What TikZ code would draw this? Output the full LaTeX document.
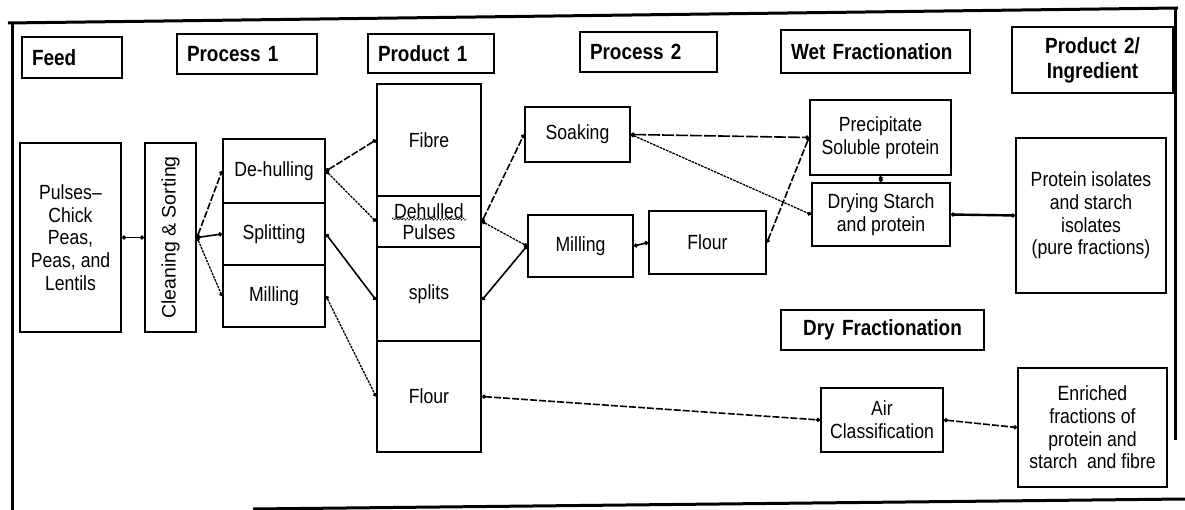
\documentclass[tikz,border=0pt]{standalone}
\usepackage{fontspec}
\setmainfont{Liberation Sans}[FakeStretch=0.86]
\newfontfamily\widesans{Liberation Sans}
\usetikzlibrary{arrows.meta,decorations.pathmorphing}

\begin{document}
\begin{tikzpicture}[x=1pt,y=-1pt,
  box/.style={draw, line width=2pt, inner sep=0pt, align=center,
    font=\fontsize{20.5}{22.7}\selectfont},
  head/.style={draw, line width=1.8pt, inner xsep=10pt, inner ysep=0pt, align=left,
    font=\fontsize{22}{25}\selectfont\bfseries},
  link/.style={line width=1.6pt, {Circle[length=4pt]}-{Circle[length=4pt]}},
  dashlink/.style={link, dash pattern=on 7pt off 2pt},
  dotlink/.style={link, line width=1.3pt, dash pattern=on 2.5pt off 1pt},
  frameline/.style={line width=3pt}]

\useasboundingbox (0,0) rectangle (1185,510);

% outer frame
\draw[frameline] (8,23) -- (1178,8);
\draw[frameline] (12,22) -- (12,510);
\draw[frameline] (1175,8) -- (1175,440);
\draw[frameline] (253,509) -- (1185,499);

% column headings
\node[head, text width=80pt, minimum height=41pt] (hfeed) at (72,57.5) {Feed};
\node[head, text width=120pt, minimum height=40pt] (hproc1) at (247,54) {Process 1};
\node[head, text width=106pt, minimum height=39pt] (hprod1) at (431,53.5) {Product 1};
\node[head, text width=117pt, minimum height=40pt] (hproc2) at (648.5,52) {Process 2};
\node[head, text width=169pt, minimum height=43pt] (hwet) at (875.5,51.5) {Wet Fractionation};
\node[head, align=center, text width=141pt, minimum height=66pt] (hprod2) at (1092.5,60) {Product 2/\\Ingredient};
\node[head, align=center, text width=183pt, minimum height=40pt] (hdry) at (882.5,330) {Dry Fractionation};

% feed and first processing step
\node[box, minimum width=101pt, minimum height=189pt] (pulses) at (70.5,237.5)
  {Pulses--\\Chick\\Peas,\\Peas, and\\Lentils};
\node[box, minimum width=51pt, minimum height=189pt] (cs) at (170.5,237.5) {};
\node[rotate=90, inner sep=0pt, font=\widesans\fontsize{19.5}{22}\selectfont] (cstext) at (cs) {Cleaning \& Sorting};
\node[box, minimum width=102pt, minimum height=64pt] (dh) at (274,171) {De-hulling};
\node[box, minimum width=102pt, minimum height=62pt] (sp) at (274,234) {Splitting};
\node[box, minimum width=102pt, minimum height=62pt] (ml) at (274,296) {Milling};

% first products
\node[box, minimum width=104pt, minimum height=112pt] (fibre) at (429,140) {Fibre};
\node[box, minimum width=104pt, minimum height=51pt, font=\fontsize{20.5}{21.5}\selectfont] (dpul) at (429,221.5) {Dehulled\\Pulses};
\node[box, minimum width=104pt, minimum height=94pt] (splits) at (429,294) {\raisebox{-6pt}{splits}};
\node[box, minimum width=104pt, minimum height=111pt] (flour) at (429,396.5) {Flour};
\draw[line width=0.9pt, dash pattern=on 1.5pt off 1pt, decorate,
  decoration={snake, amplitude=1pt, segment length=3.5pt}] (392,219) -- (467,219);

% second processing step
\node[box, minimum width=105pt, minimum height=55pt] (soak) at (577.5,134.5) {Soaking};
\node[box, minimum width=105pt, minimum height=62pt] (mill) at (580.5,246) {Milling};
\node[box, minimum width=117pt, minimum height=63pt] (flourb) at (707.5,242.5) {Flour};

% wet fractionation
\node[box, minimum width=141pt, minimum height=75pt] (prec) at (880.5,137.5) {Precipitate\\Soluble protein};
\node[box, minimum width=138pt, minimum height=63pt] (dry) at (881,214.5) {Drying Starch\\and protein};
\node[box, minimum width=150pt, minimum height=155pt] (iso) at (1091,215.5)
  {Protein isolates\\and starch\\isolates\\(pure fractions)};

% dry fractionation
\node[box, minimum width=122pt, minimum height=64pt] (air) at (882,420) {Air\\Classification};
\node[box, minimum width=149pt, minimum height=119pt] (enr) at (1092.5,427.5)
  {Enriched\\fractions of\\protein and\\starch\ \ and fibre};

% connections
\draw[link] (pulses.east) -- (cs.west);
\draw[dashlink] (cs.east) -- (dh.west);
\draw[link] (cs.east) -- (sp.west);
\draw[dotlink] (cs.east) -- (ml.west);
\draw[dashlink] (dh.east) -- (fibre.west);
\draw[dotlink] (dh.east) -- (dpul.west);
\draw[link] (sp.east) -- ([yshift=-6pt]splits.west);
\draw[dotlink] (ml.east) -- (flour.west);
\draw[dashlink] (dpul.east) -- (soak.west);
\draw[dotlink] (dpul.east) -- (mill.west);
\draw[link] ([yshift=-6pt]splits.east) -- (mill.west);
\draw[dashlink] (flour.east) -- (air.west);
\draw[dashlink, dash pattern=on 12pt off 2pt] (soak.east) -- (prec.west);
\draw[dotlink] (soak.east) -- (dry.west);
\draw[link] (mill.east) -- (flourb.west);
\draw[dashlink] (flourb.east) -- (prec.west);
\draw[link] (prec.south) -- (dry.north);
\draw[link, line width=2.4pt] (dry.east) -- (iso.west);
\draw[dashlink] (air.east) -- (enr.west);
\end{tikzpicture}
\end{document}
